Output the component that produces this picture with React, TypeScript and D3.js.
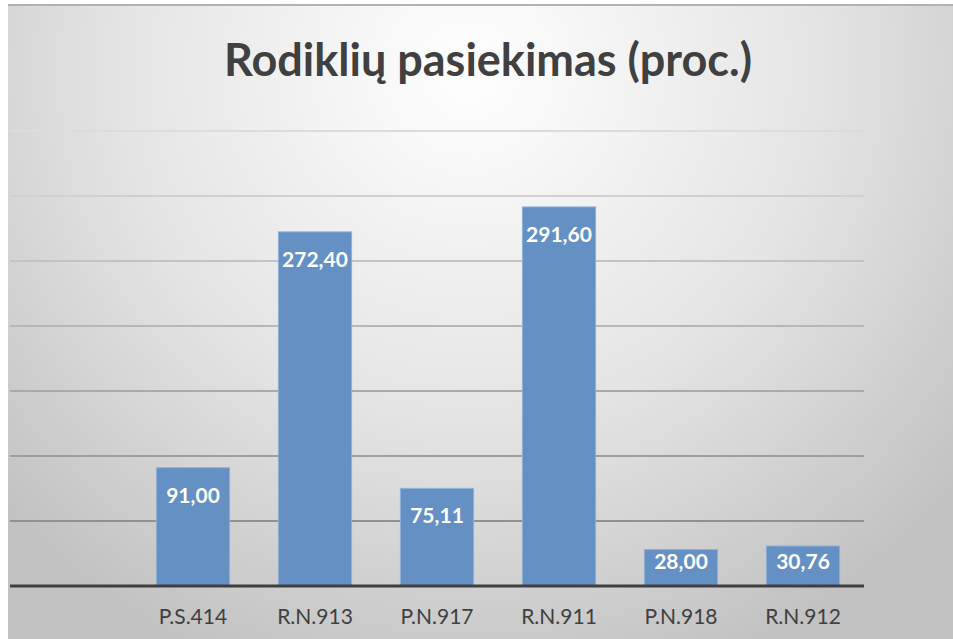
import { scaleBand, scaleLinear, interpolateRgb, range } from "d3";

const categories = ["", "P.S.414", "R.N.913", "P.N.917", "R.N.911", "P.N.918", "R.N.912"];
const values: (number | null)[] = [null, 91.0, 272.4, 75.11, 291.6, 28.0, 30.76];
const yTicks = range(0, 351, 50);

const W = 953;
const H = 639;
const FONT = "Lato, 'Open Sans', sans-serif";

export default function App() {
  const x = scaleBand().domain(categories).range([10, 864]).paddingInner(0.4).paddingOuter(0.2);
  const y = scaleLinear().domain([0, 350]).range([586, 131]);
  const gridColor = interpolateRgb("#dcdcdc", "#858585");

  return (
    <svg width={W} height={H} style={{ position: "absolute", left: 0, top: 0 }} fontFamily={FONT}>
      <defs>
        <radialGradient id="bg" gradientUnits="userSpaceOnUse" cx={470} cy={70} r={640}>
          <stop offset="0" stopColor="#ffffff" />
          <stop offset="0.55" stopColor="#e4e4e4" />
          <stop offset="1" stopColor="#c2c2c2" />
        </radialGradient>
      </defs>
      <rect x={0} y={0} width={W} height={H} fill="#ffffff" />
      <rect x={8} y={6} width={W - 8} height={H - 6} fill="url(#bg)" />
      <line x1={8} x2={W} y1={5} y2={5} stroke="#b2b2b2" strokeWidth={2} />

      <text x={488} y={76} textAnchor="middle" fontSize={45} fontWeight={700} fill="#404040">
        Rodiklių pasiekimas (proc.)
      </text>

      {yTicks.slice(1).map((t) => (
        <line
          key={t}
          x1={10}
          x2={864}
          y1={y(t)}
          y2={y(t)}
          stroke={gridColor(1 - (586 - y(t)) / 455)}
          strokeWidth={2}
        />
      ))}

      {categories.map((c, i) => {
        const v = values[i];
        if (v == null) return null;
        const bx = x(c) ?? 0;
        const top = y(v);
        const labelY = Math.min(top + 35, y(0) - 17);
        return (
          <g key={c}>
            <rect x={bx} y={top} width={x.bandwidth()} height={y(0) - top} fill="#6490c4" stroke="#8fb0d8" strokeWidth={1} />
            <text x={bx + x.bandwidth() / 2} y={labelY} textAnchor="middle" fontSize={21} fontWeight={700} fill="#ffffff">
              {v.toFixed(2).replace(".", ",")}
            </text>
          </g>
        );
      })}

      <line x1={10} x2={864} y1={y(0)} y2={y(0)} stroke="#3f3f3f" strokeWidth={3} />

      {categories.map((c) => (
        <text key={"l" + c} x={(x(c) ?? 0) + x.bandwidth() / 2} y={624} textAnchor="middle" fontSize={21} fill="#404040">
          {c}
        </text>
      ))}
    </svg>
  );
}
